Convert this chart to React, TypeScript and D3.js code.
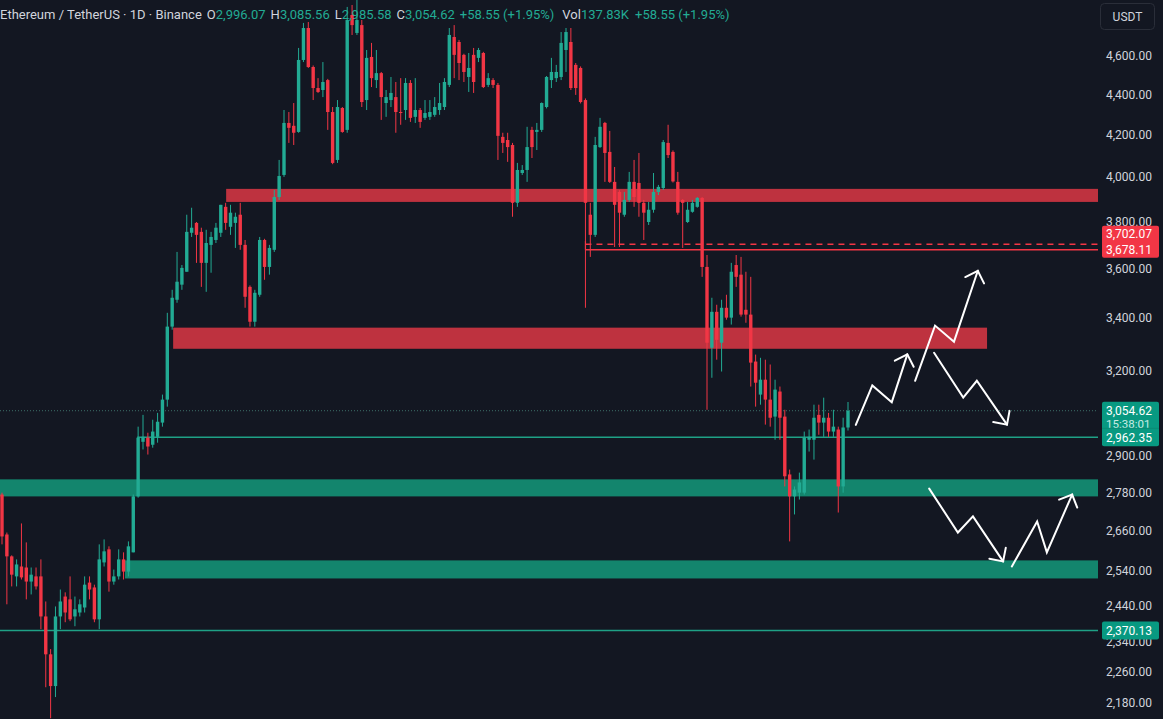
import React from 'react';
import * as d3 from 'd3';

const W = 1163;
const H = 719;
const PLOT_RIGHT = 1098;

// Daily candles: [open, high, low, close]
const candles: [number, number, number, number][] = [
  [2773, 2779, 2618, 2642], [2648, 2654, 2443, 2582], [2582, 2585, 2494, 2528], [2523, 2573, 2494, 2558],
  [2552, 2682, 2514, 2520], [2549, 2624, 2457, 2508], [2508, 2549, 2471, 2528], [2523, 2549, 2485, 2494],
  [2523, 2573, 2374, 2409], [2409, 2451, 2220, 2306], [2306, 2320, 2142, 2223], [2223, 2437, 2195, 2409],
  [2409, 2485, 2374, 2451], [2465, 2477, 2393, 2420], [2457, 2523, 2396, 2401], [2409, 2465, 2382, 2429],
  [2420, 2457, 2409, 2443], [2434, 2523, 2420, 2499], [2505, 2523, 2457, 2485], [2491, 2499, 2393, 2401],
  [2401, 2618, 2374, 2573], [2564, 2633, 2552, 2597], [2603, 2612, 2479, 2508], [2508, 2543, 2499, 2523],
  [2523, 2603, 2514, 2573], [2573, 2594, 2514, 2537], [2537, 2627, 2523, 2612], [2594, 2773, 2594, 2767],
  [2767, 2999, 2763, 2961], [2947, 3040, 2921, 2964], [2961, 2978, 2904, 2931], [2937, 3023, 2927, 2982],
  [2964, 3047, 2944, 3016], [3013, 3112, 2999, 3094], [3094, 3420, 3069, 3366], [3366, 3512, 3354, 3480],
  [3472, 3669, 3460, 3545], [3533, 3614, 3512, 3602], [3586, 3830, 3586, 3755], [3751, 3861, 3733, 3773],
  [3794, 3798, 3623, 3742], [3755, 3773, 3524, 3623], [3623, 3764, 3504, 3707], [3699, 3755, 3582, 3733],
  [3720, 3794, 3707, 3773], [3751, 3874, 3733, 3874], [3865, 3883, 3764, 3794], [3777, 3874, 3742, 3839],
  [3794, 3839, 3686, 3821], [3830, 3883, 3678, 3699], [3699, 3720, 3440, 3484], [3524, 3530, 3366, 3385],
  [3385, 3512, 3366, 3500], [3492, 3733, 3484, 3720], [3720, 3725, 3553, 3606], [3606, 3699, 3574, 3686],
  [3678, 3941, 3669, 3909], [3909, 4080, 3896, 4005], [4010, 4322, 4001, 4258], [4258, 4312, 4161, 4234],
  [4244, 4357, 4151, 4210], [4214, 4643, 4210, 4579], [4579, 4779, 4568, 4751], [4751, 4784, 4537, 4542],
  [4542, 4550, 4372, 4433], [4433, 4484, 4408, 4413], [4423, 4568, 4387, 4464], [4474, 4480, 4224, 4312],
  [4312, 4337, 4060, 4066], [4080, 4372, 4066, 4337], [4332, 4337, 4210, 4214], [4224, 4868, 4210, 4795],
  [4823, 4879, 4713, 4767], [4724, 4907, 4713, 4795], [4767, 4795, 4337, 4362], [4372, 4632, 4322, 4590],
  [4595, 4670, 4438, 4484], [4474, 4632, 4433, 4510], [4510, 4516, 4273, 4387], [4357, 4423, 4288, 4387],
  [4372, 4490, 4337, 4408], [4387, 4464, 4210, 4312], [4312, 4484, 4249, 4307], [4322, 4484, 4273, 4459],
  [4459, 4474, 4263, 4283], [4288, 4484, 4258, 4322], [4322, 4332, 4234, 4263], [4283, 4372, 4273, 4307],
  [4288, 4372, 4273, 4312], [4298, 4387, 4288, 4337], [4322, 4459, 4298, 4357], [4337, 4484, 4322, 4464],
  [4449, 4751, 4438, 4713], [4702, 4767, 4484, 4606], [4675, 4686, 4474, 4563], [4606, 4612, 4464, 4516],
  [4490, 4616, 4413, 4537], [4606, 4643, 4408, 4464], [4590, 4643, 4568, 4632], [4616, 4622, 4433, 4438],
  [4449, 4510, 4438, 4484], [4474, 4484, 4433, 4449], [4449, 4459, 4080, 4195], [4190, 4210, 4113, 4161],
  [4175, 4210, 4071, 4141], [4151, 4161, 3821, 3883], [3883, 4066, 3865, 4033], [4019, 4056, 4010, 4033],
  [4033, 4239, 3978, 4141], [4224, 4239, 4089, 4141], [4214, 4258, 4127, 4224], [4224, 4360, 4214, 4357],
  [4337, 4495, 4330, 4490], [4474, 4590, 4433, 4516], [4484, 4553, 4464, 4516], [4490, 4729, 4474, 4670],
  [4632, 4751, 4516, 4729], [4675, 4751, 4423, 4433], [4553, 4563, 4398, 4433], [4537, 4545, 4355, 4362],
  [4372, 4380, 3440, 3883], [3830, 3883, 3648, 3742], [3742, 4190, 3733, 4151], [4141, 4283, 4137, 4239],
  [4258, 4263, 3978, 4113], [4118, 4219, 3973, 3978], [3978, 4047, 3690, 3874], [3932, 3940, 3690, 3839],
  [3830, 3932, 3821, 3896], [3896, 4024, 3887, 3978], [3978, 4080, 3865, 3909], [3973, 4113, 3821, 3883],
  [3883, 3896, 3720, 3839], [3798, 3887, 3785, 3852], [3852, 4019, 3839, 3932], [3932, 3964, 3918, 3955],
  [3950, 4175, 3941, 4165], [4161, 4249, 4089, 4103], [4118, 4125, 3975, 3980], [3978, 4024, 3830, 3839],
  [3896, 3900, 3686, 3883], [3798, 3887, 3794, 3852], [3843, 3896, 3839, 3883], [3865, 3909, 3861, 3905],
  [3905, 3909, 3565, 3606], [3606, 3656, 3058, 3304], [3285, 3480, 3173, 3424], [3424, 3452, 3240, 3315],
  [3304, 3472, 3196, 3440], [3440, 3492, 3393, 3401], [3401, 3623, 3374, 3586], [3614, 3656, 3524, 3565],
  [3574, 3648, 3405, 3413], [3432, 3586, 3381, 3413], [3413, 3565, 3141, 3229], [3233, 3259, 3069, 3155],
  [3112, 3247, 3076, 3166], [3166, 3240, 3006, 3094], [3094, 3222, 2999, 3030], [3034, 3166, 2954, 3130],
  [3123, 3141, 2954, 3030], [3034, 3058, 2799, 2832], [2838, 2854, 2627, 2767], [2767, 2799, 2710, 2789],
  [2779, 2844, 2757, 2812], [2779, 2982, 2773, 2961], [2954, 2989, 2914, 2964], [2954, 3076, 2887, 3030],
  [3040, 3076, 2971, 3013], [3013, 3101, 2964, 3030], [3030, 3047, 2964, 2982], [2982, 3058, 2964, 2999],
  [2989, 2999, 2716, 2799], [2799, 3030, 2779, 2996.07], [2996.07, 3085.56, 2985.58, 3054.62],
];

const priceTicks = [4600, 4400, 4200, 4000, 3800, 3600, 3400, 3200, 2900, 2780, 2660, 2540, 2440, 2340, 2260, 2180];

// Supply (red) zones: [startBar, endBar | null = to axis, top, bottom]
const redZones: [number, number | null, number, number][] = [
  [46.1, null, 3946, 3887],
  [35.2, 202.6, 3362, 3281],
];
// Demand (green) zones
const greenZones: [number, number | null, number, number][] = [
  [-1, null, 2822, 2767],
  [25.3, null, 2570, 2517],
];
// Green horizontal levels: [startBar, price]
const greenLevels: [number, number][] = [
  [27.8, 2962.35],
  [-1, 2370.13],
];
const redBoxStart = 120;
const redDashedLevel = 3702.07;
const redSolidLevel = 3678.11;
const volumeText = '137.83K';
const countdown = '15:38:01';

// Projection arrows: points as [barIndex, price]
const arrows: [number, number][][] = [
  [[175.6, 3005], [179, 3145], [183, 3085], [186.2, 3260]],
  [[187.8, 3162], [191.9, 3370], [195.8, 3308], [200.7, 3590]],
  [[191.7, 3266], [197.7, 3101], [200.5, 3162], [206.7, 3006]],
  [[190.7, 2792], [196.6, 2654], [199.7, 2704], [205.9, 2567]],
  [[207.7, 2552], [212.9, 2688], [214.9, 2594], [220.1, 2773]],
];

const UP = '#22ab94';
const DOWN = '#f23645';
const BG = '#131722';
const FONT = 'Roboto, "Noto Sans", sans-serif';

export default function App() {
  const x = d3.scaleLinear().domain([0, candles.length - 1]).range([2, 848]);
  const y = d3.scaleLog().domain([4600, 2180]).range([56, 703]);
  const fmt = d3.format(',.2f');
  const last = candles[candles.length - 1];
  const prev = candles[candles.length - 2];
  const chg = last[3] - prev[3];
  const chgPct = (chg / prev[3]) * 100;
  const chgText = `+${fmt(chg)} (+${chgPct.toFixed(2)}%)`;
  const xs = (b: number) => (b < 0 ? 0 : x(b));
  const line = d3.line<[number, number]>().x((d) => x(d[0])).y((d) => y(d[1]));

  const arrowHead = (pts: [number, number][]) => {
    const a = pts[pts.length - 2];
    const b = pts[pts.length - 1];
    const x1 = x(a[0]), y1 = y(a[1]), x2 = x(b[0]), y2 = y(b[1]);
    const ang = Math.atan2(y2 - y1, x2 - x1);
    const L = 14;
    const s = Math.PI / 4;
    const p1 = [x2 - L * Math.cos(ang - s), y2 - L * Math.sin(ang - s)];
    const p2 = [x2 - L * Math.cos(ang + s), y2 - L * Math.sin(ang + s)];
    return `M${p1[0]},${p1[1]}L${x2},${y2}L${p2[0]},${p2[1]}`;
  };

  const yLast = y(last[3]);
  const y2962 = y(greenLevels[0][1]);
  const y2370 = y(greenLevels[1][1]);
  const yRedSolid = y(redSolidLevel);

  return (
    <svg width={W} height={H} style={{ position: 'absolute', left: 0, top: 0, display: 'block' }} fontFamily={FONT}>
      <rect x={0} y={0} width={W} height={H} fill={BG} />
      <defs>
        <clipPath id="plot">
          <rect x={0} y={0} width={PLOT_RIGHT} height={H} />
        </clipPath>
      </defs>
      <g clipPath="url(#plot)">
        {redZones.map((z, i) => (
          <rect key={'rz' + i} x={xs(z[0])} y={y(z[2])} width={(z[1] == null ? PLOT_RIGHT : x(z[1])) - xs(z[0])}
            height={y(z[3]) - y(z[2])} fill="#be323f" />
        ))}
        {greenZones.map((z, i) => (
          <rect key={'gz' + i} x={xs(z[0])} y={y(z[2])} width={(z[1] == null ? PLOT_RIGHT : x(z[1])) - xs(z[0])}
            height={y(z[3]) - y(z[2])} fill="#13856d" />
        ))}
        {greenLevels.map((l, i) => (
          <line key={'gl' + i} x1={xs(l[0])} x2={PLOT_RIGHT} y1={y(l[1])} y2={y(l[1])} stroke="#1fa186" strokeWidth={1.6} />
        ))}
        <line x1={x(redBoxStart)} x2={PLOT_RIGHT} y1={y(redDashedLevel)} y2={y(redDashedLevel)} stroke={DOWN} strokeWidth={1.5} strokeDasharray="6,5" />
        <line x1={x(redBoxStart)} x2={PLOT_RIGHT} y1={yRedSolid} y2={yRedSolid} stroke={DOWN} strokeWidth={1.5} />
        <line x1={x(redBoxStart)} x2={x(redBoxStart)} y1={y(redDashedLevel) - 3} y2={yRedSolid} stroke={DOWN} strokeWidth={1.2} />
        <line x1={0} x2={PLOT_RIGHT} y1={yLast} y2={yLast} stroke="#3d6f68" strokeWidth={1} strokeDasharray="1,2" />
        {candles.map((c, i) => {
          const [o, h, l, cl] = c;
          const col = cl >= o ? UP : DOWN;
          const cx = x(i);
          const top = y(Math.max(o, cl));
          const bot = y(Math.min(o, cl));
          return (
            <g key={'c' + i}>
              <line x1={cx} x2={cx} y1={y(h)} y2={y(l)} stroke={col} strokeWidth={1} />
              <rect x={cx - 1.7} y={top} width={3.4} height={Math.max(1, bot - top)} fill={col} />
            </g>
          );
        })}
        {arrows.map((a, i) => (
          <g key={'a' + i} fill="none" stroke="#ffffff" strokeWidth={2} strokeLinejoin="miter" strokeLinecap="round">
            <path d={line(a) || ''} />
            <path d={arrowHead(a)} />
          </g>
        ))}
      </g>

      {priceTicks.map((t) => (
        <text key={'t' + t} x={1106} y={y(t)} dy="0.35em" fill="#d1d4dc" fontSize={12}>
          {fmt(t)}
        </text>
      ))}

      <rect x={1102} y={yRedSolid - 24} width={57} height={32} fill={DOWN} rx={2} />
      <text x={1106} y={yRedSolid - 16} dy="0.35em" fill="#ffffff" fontSize={12}>{fmt(redDashedLevel)}</text>
      <text x={1106} y={yRedSolid} dy="0.35em" fill="#ffffff" fontSize={12}>{fmt(redSolidLevel)}</text>

      <rect x={1102} y={yLast - 9} width={57} height={y2962 - yLast + 18} fill="#089981" rx={2} />
      <text x={1106} y={yLast} dy="0.35em" fill="#ffffff" fontSize={12}>{fmt(last[3])}</text>
      <text x={1106} y={yLast + 13} dy="0.35em" fill="#c9ece5" fontSize={11.5}>{countdown}</text>
      <line x1={1102} x2={1159} y1={y2962 - 9} y2={y2962 - 9} stroke="#0a8a74" strokeWidth={1} />
      <text x={1106} y={y2962 + 1} dy="0.35em" fill="#ffffff" fontSize={12}>{fmt(greenLevels[0][1])}</text>

      <rect x={1102} y={y2370 - 9} width={57} height={18} fill="#089981" rx={2} />
      <text x={1106} y={y2370} dy="0.35em" fill="#ffffff" fontSize={12}>{fmt(greenLevels[1][1])}</text>

      <rect x={1100.5} y={3.5} width={54} height={26} rx={4} fill="#131722" stroke="#2a2e39" />
      <text x={1127.5} y={16.5} dy="0.35em" textAnchor="middle" fill="#d1d4dc" fontSize={12}>USDT</text>

      <text x={0} y={14} dy="0.35em" fontSize={13} fill="#d1d4dc">
        <tspan>Ethereum / TetherUS · 1D · Binance</tspan>
        <tspan dx={5}>O</tspan>
        <tspan fill={UP}>{fmt(last[0])}</tspan>
        <tspan dx={5}>H</tspan>
        <tspan fill={UP}>{fmt(last[1])}</tspan>
        <tspan dx={5}>L</tspan>
        <tspan fill={UP}>{fmt(last[2])}</tspan>
        <tspan dx={5}>C</tspan>
        <tspan fill={UP}>{fmt(last[3])}</tspan>
        <tspan dx={5} fill={UP}>{chgText}</tspan>
        <tspan dx={8}>Vol</tspan>
        <tspan fill={UP}>{volumeText}</tspan>
        <tspan dx={6} fill={UP}>{chgText}</tspan>
      </text>
    </svg>
  );
}
